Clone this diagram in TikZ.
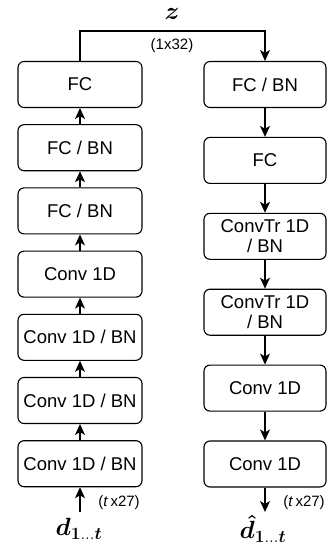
\documentclass[tikz,border=0pt]{standalone}
\usepackage{amsmath}
\usepackage[no-math]{fontspec}
\setmainfont{Liberation Sans}
\usetikzlibrary{arrows.meta}

\tikzset{
    blk/.style={draw, rounded corners=6pt, minimum width=124pt, minimum height=46pt,
        inner sep=1pt, align=center, font=\fontsize{18.5}{20.5}\selectfont},
    arr/.style={-{Stealth[length=11pt, width=10pt, inset=3pt]}},
    dimlbl/.style={font=\fontsize{15}{17}\selectfont},
    seqlbl/.style={font=\fontsize{23}{25}\selectfont},
}

\begin{document}
\begin{tikzpicture}[x=1pt, y=-1pt, line width=1.1pt]
    \useasboundingbox (0,0) rectangle (327,548);

    % encoder
    \node[blk] (enc1) at (80,84.5) {FC};
    \node[blk] (enc2) at (80,147.7) {FC / BN};
    \node[blk] (enc3) at (80,210.9) {FC / BN};
    \node[blk] (enc4) at (80,274.1) {Conv 1D};
    \node[blk] (enc5) at (80,337.3) {Conv 1D / BN};
    \node[blk] (enc6) at (80,400.5) {Conv 1D / BN};
    \node[blk] (enc7) at (80,463.7) {Conv 1D / BN};

    % decoder
    \node[blk, minimum width=122pt] (dec1) at (265,84.5) {FC / BN};
    \node[blk, minimum width=122pt] (dec2) at (265,160.4) {FC};
    \node[blk, minimum width=122pt] (dec3) at (265,236.3) {ConvTr 1D\\/ BN};
    \node[blk, minimum width=122pt] (dec4) at (265,312.2) {ConvTr 1D\\/ BN};
    \node[blk, minimum width=122pt] (dec5) at (265,388.1) {Conv 1D};
    \node[blk, minimum width=122pt] (dec6) at (265,464) {Conv 1D};

    \foreach \a/\b in {enc7/enc6, enc6/enc5, enc5/enc4, enc4/enc3, enc3/enc2, enc2/enc1}
        \draw[arr] (\a) -- (\b);
    \foreach \a/\b in {dec1/dec2, dec2/dec3, dec3/dec4, dec4/dec5, dec5/dec6}
        \draw[arr] (\a) -- (\b);

    % latent
    \coordinate (zmid) at (172,31);
    \draw[arr] (enc1.north) |- (zmid) -| (dec1.north);
    \node[seqlbl] (zlbl) at (172,14) {$\boldsymbol{z}$};
    \node[dimlbl] (zdim) at (172,46) {(1x32)};

    % input / output
    \coordinate (din) at (80,512);
    \coordinate (dout) at (265,512);
    \draw[arr] (din) -- (enc7);
    \draw[arr] (dec6) -- (dout);
    \node[dimlbl] (indim) at (119,503) {(\textit{t}\,x27)};
    \node[dimlbl] (outdim) at (304,503) {(\textit{t}\,x27)};
    \node[seqlbl] (inlbl) at (79,529) {$\boldsymbol{d}_{\mathbf{1\ldots}\boldsymbol{t}}$};
    \node[seqlbl] (outlbl) at (263,529) {$\boldsymbol{\hat{d}}_{\mathbf{1\ldots}\boldsymbol{t}}$};
\end{tikzpicture}
\end{document}
